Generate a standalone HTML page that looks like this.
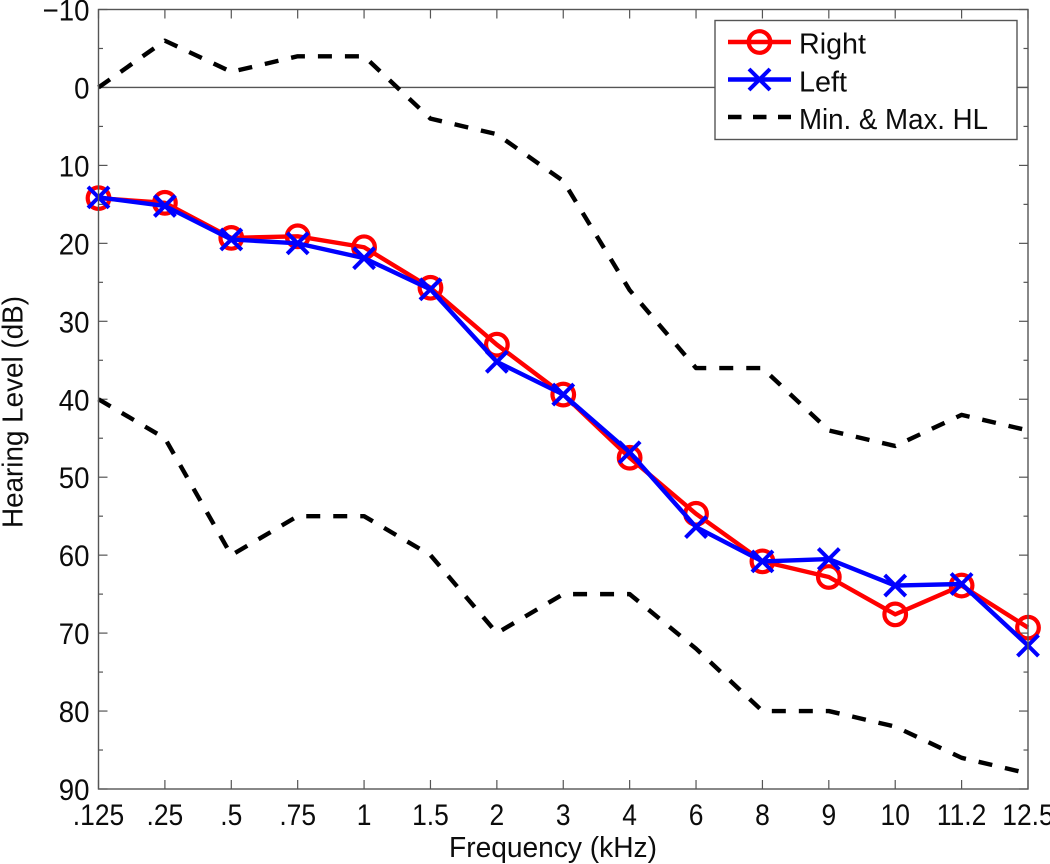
<!DOCTYPE html>
<html>
<head>
<meta charset="utf-8">
<style>
html,body{margin:0;padding:0;background:#fff;width:1050px;height:864px;overflow:hidden}
svg{display:block}
text{font-family:"Liberation Sans",sans-serif;fill:#0c0c0c}
</style>
</head>
<body>
<svg id="chart" xmlns="http://www.w3.org/2000/svg" width="1050" height="864" viewBox="0 0 1050 864"></svg>
<script>
const freqLabels = [".125",".25",".5",".75","1","1.5","2","3","4","6","8","9","10","11.2","12.5"];
const rightEar = [14.2,14.8,19.3,19.1,20.5,25.7,33,39.4,47.5,54.7,60.8,62.8,67.6,63.9,69.3];
const leftEar = [14.1,15.2,19.5,20,21.9,25.9,35.2,39.4,46.8,56.4,60.8,60.5,63.9,63.7,71.6];
const minHL = [0,-6,-2,-4,-4,4,6,12,26,36,36,44,46,42,44];
const maxHL = [40,45,60,55,55,60,70,65,65,72,80,80,82,86,88];
const yTickLabels = ["\u221210","0","10","20","30","40","50","60","70","80","90"];
const yTicks = [-10,0,10,20,30,40,50,60,70,80,90];
const yMinorTicks = [-5,5,15,25,35,45,55,65,75,85];

const NS = "http://www.w3.org/2000/svg";
const svg = document.getElementById("chart");
const L = 98.5, R = 1028, T = 9.5, B = 789;
const AX = "#555";
function xs(i){ return L + (R - L) * i / (freqLabels.length - 1); }
function ys(v){ return T + (B - T) * (v + 10) / 100; }
function mk(tag, attrs, parent){
  const e = document.createElementNS(NS, tag);
  for (const k in attrs) e.setAttribute(k, attrs[k]);
  (parent || svg).appendChild(e);
  return e;
}
function pts(arr){ return arr.map((v,i)=>xs(i).toFixed(2)+","+ys(v).toFixed(2)).join(" "); }
// narrow the Liberation glyphs to the condensed proportions of the reference face
function squeeze(t, factor){
  const w = t.getComputedTextLength();
  t.setAttribute("textLength", (w * factor).toFixed(2));
  t.setAttribute("lengthAdjust", "spacingAndGlyphs");
}

// zero line
const zero = mk("line",{x1:L,x2:R,y1:ys(0),y2:ys(0),stroke:AX,"stroke-width":1.4});



// x ticks + labels
freqLabels.forEach((lab,i)=>{
  const x = xs(i);
  const t1 = mk("line",{x1:x,x2:x,y1:B,y2:B-9,stroke:AX,"stroke-width":1.2});
  
  
  const t2 = mk("line",{x1:x,x2:x,y1:T,y2:T+9,stroke:AX,"stroke-width":1.2});
  
  
  const tx = mk("text",{x:x,y:825,"text-anchor":"middle","font-size":30});
  tx.textContent = lab;
  
  
  squeeze(tx, 0.88);
});

// y ticks + labels
yTicks.forEach((v,i)=>{
  const y = ys(v);
  const t1 = mk("line",{x1:L,x2:L+9,y1:y,y2:y,stroke:AX,"stroke-width":1.2});
  
  
  const t2 = mk("line",{x1:R,x2:R-9,y1:y,y2:y,stroke:AX,"stroke-width":1.2});
  
  
  const tx = mk("text",{x:89.5,y:y+11,"text-anchor":"end","font-size":30});
  tx.textContent = yTickLabels[i];
  
  
  squeeze(tx, 0.92);
});
yMinorTicks.forEach(v=>{
  const y = ys(v);
  const t1 = mk("line",{x1:L,x2:L+4.5,y1:y,y2:y,stroke:AX,"stroke-width":1.2});
  
  
  const t2 = mk("line",{x1:R,x2:R-4.5,y1:y,y2:y,stroke:AX,"stroke-width":1.2});
  
  
});

// dashed limits
const DASH = "14 13";
const lMin = mk("polyline",{points:pts(minHL),fill:"none",stroke:"#000","stroke-width":4.4,"stroke-dasharray":DASH,"stroke-linejoin":"round"});


const lMax = mk("polyline",{points:pts(maxHL),fill:"none",stroke:"#000","stroke-width":4.4,"stroke-dasharray":DASH,"stroke-linejoin":"round"});



function cross(x,y,r,g,w,col){
  const d = "M"+(x-r)+" "+(y-r)+"L"+(x+r)+" "+(y+r)+"M"+(x-r)+" "+(y+r)+"L"+(x+r)+" "+(y-r);
  return mk("path",{d:d,stroke:col,"stroke-width":w,fill:"none"},g);
}

// right series
const gR = mk("g",{});


const pR = mk("polyline",{points:pts(rightEar),fill:"none",stroke:"#f00","stroke-width":4.4,"stroke-linejoin":"round"},gR);


rightEar.forEach((v,i)=>{
  const c = mk("circle",{cx:xs(i),cy:ys(v),r:10.8,fill:"none",stroke:"#f00","stroke-width":4.2},gR);
  
  
});

// left series
const gL = mk("g",{});


const pL = mk("polyline",{points:pts(leftEar),fill:"none",stroke:"#00f","stroke-width":4.4,"stroke-linejoin":"round"},gL);


leftEar.forEach((v,i)=>{
  const c = cross(xs(i),ys(v),10.5,gL,4,"#00f");
  
  
});

// axes box
const box = mk("rect",{x:L,y:T,width:R-L,height:B-T,fill:"none",stroke:AX,"stroke-width":1.4});



// axis titles
const xT = mk("text",{x:553,y:857,"text-anchor":"middle","font-size":29,textLength:208,lengthAdjust:"spacingAndGlyphs"});
xT.textContent = "Frequency (kHz)";


const yT = mk("text",{x:0,y:0,"text-anchor":"middle","font-size":29,textLength:232,lengthAdjust:"spacingAndGlyphs",transform:"translate(22.5,412) rotate(-90)"});
yT.textContent = "Hearing Level (dB)";



// legend
const lg = mk("g",{});


const lgBox = mk("rect",{x:715,y:20.5,width:302,height:119,fill:"#fff",stroke:AX,"stroke-width":1.4},lg);



const l1 = mk("line",{x1:728,x2:791,y1:42,y2:42,stroke:"#f00","stroke-width":4.4},lg);


const l1c = mk("circle",{cx:759.5,cy:42,r:10.8,fill:"none",stroke:"#f00","stroke-width":4.2},lg);


const t1 = mk("text",{x:799,y:53.5,"font-size":29,textLength:67,lengthAdjust:"spacingAndGlyphs"},lg);
t1.textContent = "Right";



const l2 = mk("line",{x1:728,x2:791,y1:79.5,y2:79.5,stroke:"#00f","stroke-width":4.4},lg);


const l2c = cross(759.5,79.5,10.5,lg,4,"#00f");


const t2 = mk("text",{x:799,y:91.5,"font-size":29,textLength:48,lengthAdjust:"spacingAndGlyphs"},lg);
t2.textContent = "Left";



const l3 = mk("line",{x1:728,x2:791,y1:117,y2:117,stroke:"#000","stroke-width":4.4,"stroke-dasharray":"13.5 11.5"},lg);


const t3 = mk("text",{x:799,y:129,"font-size":29,textLength:189,lengthAdjust:"spacingAndGlyphs"},lg);
t3.textContent = "Min. & Max. HL";


</script>
</body>
</html>
